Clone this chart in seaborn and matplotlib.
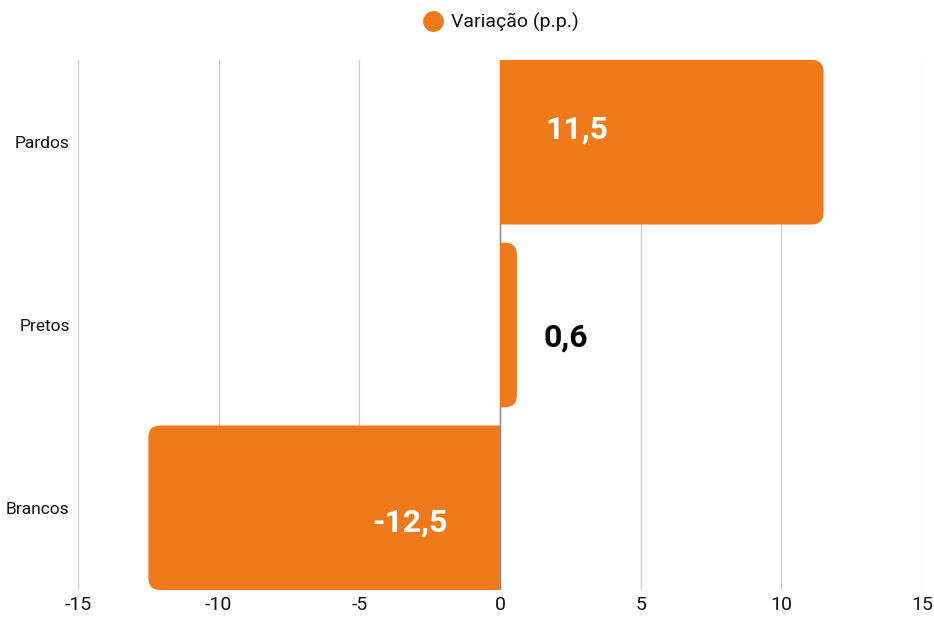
import numpy as np
import pandas as pd
import seaborn as sns
import matplotlib.pyplot as plt
from matplotlib.path import Path
from matplotlib.patches import PathPatch
from matplotlib.lines import Line2D

# dados
categorias = ["Pardos", "Pretos", "Brancos"]
variacao = [11.5, 0.6, -12.5]
rotulos = ["11,5", "0,6", "-12,5"]
ticks_x = [-15, -10, -5, 0, 5, 10, 15]

LARANJA = "#EE7A1C"
FONTE = ["Roboto", "DejaVu Sans"]

sns.set_style("white")
plt.rcParams["font.family"] = FONTE

df = pd.DataFrame({"grupo": categorias, "valor": variacao})

fig = plt.figure(figsize=(9.34, 6.19), dpi=100)
ax = fig.add_axes([78 / 934, 29 / 619, 844 / 934, 530 / 619])

sns.barplot(data=df, y="grupo", x="valor", color=LARANJA, saturation=1,
            width=0.9, orient="h", ax=ax, zorder=2)

ax.set_xlim(-15, 15)
ax.set_ylim(2.45, -0.45)
ax.set_xticks(ticks_x)
ax.set_xticklabels([str(t) for t in ticks_x], fontsize=14, color="#111111")
ax.tick_params(axis="y", labelsize=12.5, length=0, pad=6, labelcolor="#111111")
ax.tick_params(axis="x", length=0, pad=4)
ax.set_xlabel("")
ax.set_ylabel("")
for s in ax.spines.values():
    s.set_visible(False)
ax.grid(axis="x", color="#cccccc", linewidth=1, zorder=0)
ax.grid(axis="y", visible=False)
ax.axvline(0, color="#888888", linewidth=1, zorder=1)

# pixels por unidade para arredondar so a ponta da barra
p0 = ax.transData.transform((0, 0))
p1 = ax.transData.transform((1, 1))
px_x = abs(p1[0] - p0[0])
px_y = abs(p1[1] - p0[1])
raio = 12

for patch in list(ax.patches):
    x0, y0 = patch.get_x(), patch.get_y()
    w, h = patch.get_width(), patch.get_height()
    patch.set_visible(False)
    sinal = 1 if w >= 0 else -1
    rx = min(raio / px_x, abs(w)) * sinal
    ry = raio / px_y
    xe = x0 + w
    y1 = y0 + h
    verts = [(x0, y0), (xe - rx, y0), (xe, y0), (xe, y0 + ry),
             (xe, y1 - ry), (xe, y1), (xe - rx, y1), (x0, y1), (x0, y0)]
    codes = [Path.MOVETO, Path.LINETO, Path.CURVE3, Path.CURVE3,
             Path.LINETO, Path.CURVE3, Path.CURVE3, Path.LINETO, Path.CLOSEPOLY]
    ax.add_patch(PathPatch(Path(verts, codes), facecolor=LARANJA,
                           edgecolor="none", zorder=2))

# rotulos
ax.text(2.75, -0.07, rotulos[0], color="white", fontsize=23,
        fontweight="bold", ha="center", va="center", zorder=3)
ax.text(2.35, 1.07, rotulos[1], color="black", fontsize=23,
        fontweight="bold", ha="center", va="center", zorder=3)
ax.text(-3.2, 2.08, rotulos[2], color="white", fontsize=23,
        fontweight="bold", ha="center", va="center", zorder=3)

# legenda
h = Line2D([], [], marker="o", color="none", markerfacecolor=LARANJA,
           markeredgecolor="none", markersize=15)
fig.legend([h], ["Variação (p.p.)"], loc="center", bbox_to_anchor=(500 / 934, 1 - 22 / 619),
           frameon=False, fontsize=14, handletextpad=0.3, handlelength=1.2,
           labelcolor="#111111")

fig.savefig("out.png", dpi=100)
